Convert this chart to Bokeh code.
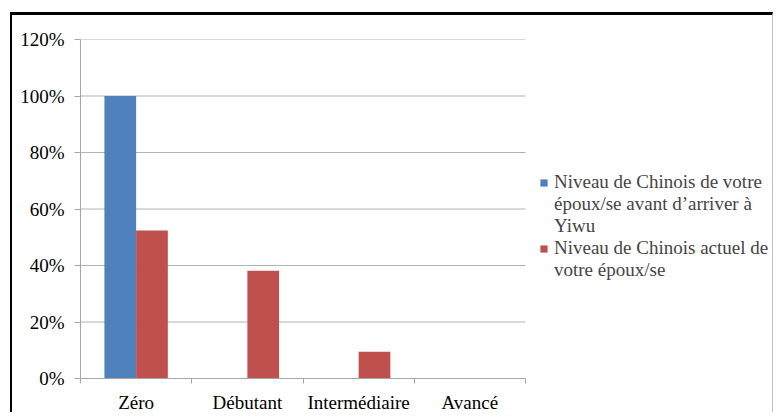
from bokeh.plotting import figure
from bokeh.models import Legend, LegendItem, FixedTicker, NumeralTickFormatter, Range1d
from bokeh.embed import file_html
from bokeh.resources import INLINE

categories = ["Zéro", "Débutant", "Intermédiaire", "Avancé"]
avant = [1.00, 0.0, 0.0, 0.0]
actuel = [0.524, 0.381, 0.095, 0.0]
series_names = ["Niveau de Chinois de votre\népoux/se avant d\u2019arriver à\nYiwu",
                "Niveau de Chinois actuel de\nvotre époux/se"]
y_ticks = [0, 0.2, 0.4, 0.6, 0.8, 1.0, 1.2]

FONT = "Liberation Serif"
BLUE = "#4F81BD"
RED = "#C0504D"
GRID = "#b3b3b3"
AXIS = "#a6a6a6"

# the chart area sits inside a border that starts at (10, 12)
W, H = 763, 400
LEFT, RIGHT, TOP, BOTTOM = 68, 0, 24, 30
PLOT_W = 445  # pixel width of the category area
n = len(categories)
frame_w = W - LEFT - RIGHT

p = figure(width=W, height=H, output_backend="svg", toolbar_location=None,
           x_range=Range1d(0, n * frame_w / PLOT_W), y_range=Range1d(0, 1.2),
           min_border_left=LEFT, min_border_right=RIGHT, min_border_top=TOP, min_border_bottom=BOTTOM)

# horizontal gridlines limited to the category area
grid_y = [t for t in y_ticks if t > 0]
p.segment(x0=[0] * len(grid_y), x1=[n] * len(grid_y), y0=grid_y, y1=grid_y, line_color=GRID, line_width=1)

centers = [i + 0.5 for i in range(n)]
bw = 0.285
r1 = p.vbar(x=[c - bw / 2 for c in centers], top=avant, width=bw, fill_color=BLUE, line_color=None)
r2 = p.vbar(x=[c + bw / 2 for c in centers], top=actuel, width=bw, fill_color=RED, line_color=None)
blank = p.vbar(x=[], top=[], width=bw, fill_alpha=0, line_alpha=0)

# x axis: labels at category centres, tick marks at category boundaries
p.xaxis.bounds = (0, n)
p.xaxis.ticker = FixedTicker(ticks=centers, minor_ticks=list(range(n + 1)))
p.xaxis.major_label_overrides = {c: name for c, name in zip(centers, categories)}
p.xaxis.major_label_text_font = FONT
p.xaxis.major_label_text_font_size = "19px"
p.xaxis.major_label_text_color = "black"
p.xaxis.major_label_standoff = 8
p.xaxis.major_tick_in = 0
p.xaxis.major_tick_out = 0
p.xaxis.minor_tick_in = 0
p.xaxis.minor_tick_out = 5
p.xaxis.axis_line_color = AXIS
p.xaxis.minor_tick_line_color = AXIS

p.yaxis.ticker = FixedTicker(ticks=y_ticks)
p.yaxis.formatter = NumeralTickFormatter(format="0%")
p.yaxis.major_label_text_font = FONT
p.yaxis.major_label_text_font_size = "19px"
p.yaxis.major_label_text_color = "black"
p.yaxis.major_label_standoff = 10
p.yaxis.major_tick_in = 0
p.yaxis.major_tick_out = 6
p.yaxis.minor_tick_line_color = None
p.yaxis.axis_line_color = AXIS
p.yaxis.major_tick_line_color = AXIS

p.xgrid.grid_line_color = None
p.ygrid.grid_line_color = None
p.outline_line_color = None

# legend: swatch on the first line of each entry
items = []
for name, rend in zip(series_names, [r1, r2]):
    for k, line in enumerate(name.split("\n")):
        items.append(LegendItem(label=line, renderers=[rend if k == 0 else blank]))

legend = Legend(items=items, location=(459, 97), orientation="vertical",
                label_text_font=FONT, label_text_font_size="19px", label_height=22,
                label_text_line_height=1.0,
                glyph_width=9, glyph_height=9, label_standoff=6, spacing=0, padding=0, margin=0,
                border_line_color=None, background_fill_alpha=0)
p.add_layout(legend, "center")

# chart-area border
p.styles = {"margin-left": "10px", "margin-top": "12px",
            "border-top": "3px solid black", "border-left": "2px solid black",
            "border-right": "1px solid #c0c0c0"}

open("out.html", "w").write(file_html(p, INLINE))
